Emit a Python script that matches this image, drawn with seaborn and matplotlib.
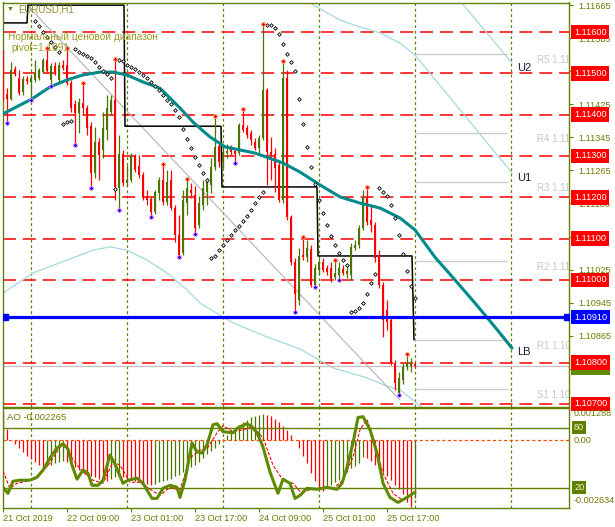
import numpy as np
import pandas as pd
import matplotlib
matplotlib.use("Agg")
import matplotlib.pyplot as plt
import matplotlib.transforms as mtransforms
import seaborn as sns

sns.set_theme(style="white")
plt.rcParams["font.family"] = ["Liberation Sans", "DejaVu Sans"]
plt.rcParams["axes.unicode_minus"] = False

# ---------------- data (EURUSD H1) ----------------
opens = [1.11544, 1.11450, 1.11438, 1.11510, 1.11489, 1.11455, 1.11486, 1.11479, 1.11484, 1.11489,
         1.11503, 1.11532, 1.11484, 1.11518, 1.11484, 1.11520, 1.11520, 1.11477, 1.11426, 1.11404,
         1.11428, 1.11416, 1.11372, 1.11259, 1.11334, 1.11314, 1.11363, 1.11406, 1.11435, 1.11222,
         1.11305, 1.11235, 1.11242, 1.11300, 1.11276, 1.11254, 1.11203, 1.11196, 1.11164, 1.11210,
         1.11242, 1.11189, 1.11242, 1.11174, 1.11109, 1.11065, 1.11186, 1.11218, 1.11206, 1.11133,
         1.11181, 1.11213, 1.11230, 1.11273, 1.11324, 1.11285, 1.11307, 1.11319, 1.11312, 1.11307,
         1.11375, 1.11368, 1.11356, 1.11334, 1.11319, 1.11343, 1.11460, 1.11310, 1.11305, 1.11278,
         1.11193, 1.11489, 1.11152, 1.11043, 1.10951, 1.11060, 1.11055, 1.11075, 1.10988, 1.11024,
         1.11043, 1.11029, 1.11029, 1.11007, 1.11012, 1.11026, 1.11014, 1.11012, 1.11077, 1.11085,
         1.11126, 1.11198, 1.11145, 1.11133, 1.11060, 1.10988, 1.10927, 1.10903, 1.10799, 1.10726,
         1.10758, 1.10789, 1.10792, 1.10797]
highs = [1.11556, 1.11464, 1.11527, 1.11518, 1.11508, 1.11494, 1.11494, 1.11494, 1.11532, 1.11513,
         1.11537, 1.11561, 1.11525, 1.11527, 1.11527, 1.11532, 1.11561, 1.11484, 1.11435, 1.11440,
         1.11477, 1.11423, 1.11382, 1.11370, 1.11343, 1.11406, 1.11448, 1.11448, 1.11535, 1.11351,
         1.11314, 1.11278, 1.11307, 1.11305, 1.11302, 1.11261, 1.11218, 1.11201, 1.11218, 1.11249,
         1.11281, 1.11266, 1.11266, 1.11181, 1.11157, 1.11218, 1.11244, 1.11235, 1.11227, 1.11203,
         1.11242, 1.11247, 1.11295, 1.11397, 1.11334, 1.11327, 1.11329, 1.11327, 1.11319, 1.11380,
         1.11414, 1.11375, 1.11363, 1.11343, 1.11351, 1.11619, 1.11464, 1.11346, 1.11319, 1.11290,
         1.11530, 1.11508, 1.11157, 1.11053, 1.11077, 1.11104, 1.11097, 1.11085, 1.11039, 1.11053,
         1.11053, 1.11036, 1.11043, 1.11048, 1.11043, 1.11036, 1.11036, 1.11089, 1.11097, 1.11133,
         1.11218, 1.11225, 1.11181, 1.11140, 1.11072, 1.10995, 1.10951, 1.10908, 1.10806, 1.10777,
         1.10799, 1.10821, 1.10811, 1.10801]
lows = [1.11435, 1.11380, 1.11435, 1.11494, 1.11448, 1.11448, 1.11474, 1.11435, 1.11479, 1.11484,
        1.11501, 1.11503, 1.11469, 1.11496, 1.11479, 1.11508, 1.11472, 1.11406, 1.11327, 1.11356,
        1.11399, 1.11351, 1.11222, 1.11247, 1.11242, 1.11295, 1.11339, 1.11399, 1.11193, 1.11169,
        1.11227, 1.11227, 1.11237, 1.11261, 1.11247, 1.11193, 1.11181, 1.11152, 1.11160, 1.11193,
        1.11181, 1.11181, 1.11169, 1.11092, 1.11055, 1.11060, 1.11157, 1.11198, 1.11111, 1.11126,
        1.11169, 1.11181, 1.11210, 1.11266, 1.11273, 1.11271, 1.11295, 1.11302, 1.11283, 1.11302,
        1.11358, 1.11343, 1.11327, 1.11314, 1.11307, 1.11339, 1.11230, 1.11242, 1.11213, 1.11189,
        1.11186, 1.11145, 1.11036, 1.10922, 1.10939, 1.11048, 1.11043, 1.10983, 1.10983, 1.11012,
        1.11019, 1.11012, 1.10995, 1.11000, 1.11000, 1.11012, 1.11005, 1.11000, 1.11072, 1.11077,
        1.11121, 1.11133, 1.11116, 1.11043, 1.10980, 1.10862, 1.10879, 1.10794, 1.10734, 1.10722,
        1.10748, 1.10782, 1.10777, 1.10787]
closes = [1.11448, 1.11438, 1.11508, 1.11498, 1.11452, 1.11486, 1.11481, 1.11489, 1.11503, 1.11508,
          1.11532, 1.11506, 1.11518, 1.11503, 1.11520, 1.11513, 1.11477, 1.11416, 1.11404, 1.11431,
          1.11416, 1.11368, 1.11259, 1.11334, 1.11302, 1.11368, 1.11416, 1.11435, 1.11225, 1.11305,
          1.11235, 1.11242, 1.11300, 1.11266, 1.11254, 1.11201, 1.11193, 1.11164, 1.11213, 1.11242,
          1.11189, 1.11237, 1.11174, 1.11109, 1.11060, 1.11193, 1.11222, 1.11210, 1.11126, 1.11186,
          1.11222, 1.11237, 1.11273, 1.11322, 1.11285, 1.11310, 1.11312, 1.11310, 1.11305, 1.11375,
          1.11363, 1.11351, 1.11339, 1.11319, 1.11343, 1.11460, 1.11310, 1.11302, 1.11271, 1.11193,
          1.11489, 1.11152, 1.11043, 1.10966, 1.11058, 1.11055, 1.11077, 1.10988, 1.11029, 1.11043,
          1.11024, 1.11019, 1.11002, 1.11017, 1.11029, 1.11017, 1.11022, 1.11080, 1.11085, 1.11126,
          1.11201, 1.11140, 1.11133, 1.11053, 1.10988, 1.10903, 1.10898, 1.10799, 1.10751, 1.10763,
          1.10789, 1.10799, 1.10797, 1.10791]

# Parabolic SAR per bar (nan = not visible)
sar = [np.nan] * 8 + [
    1.11627, 1.11615, 1.11600, 1.11588, 1.11576, 1.11564, 1.11552, 1.11377, 1.11382, 1.11385,
    1.11559, 1.11552, 1.11547, 1.11542, 1.11537, 1.11527, 1.11515, 1.11506, 1.11498, 1.11489,
    1.11220, 1.11532, 1.11530, 1.11520, 1.11515, 1.11510, 1.11503, 1.11496, 1.11489, 1.11479,
    1.11469, 1.11460, 1.11448, 1.11435, 1.11426, 1.11411, 1.11394, 1.11365, 1.11341, 1.11319,
    1.11298, 1.11278, 1.11259, 1.11242, 1.11053, 1.11058, 1.11072, 1.11085, 1.11097, 1.11109,
    1.11121, 1.11130, 1.11143, 1.11155, 1.11169, 1.11186, 1.11201, 1.11213, 1.11617, 1.11617,
    1.11610, 1.11595, 1.11571, 1.11547, 1.11527, 1.11506, 1.11438, 1.11377, 1.11322, 1.11273,
    1.11232, 1.11193, 1.11162, 1.11133, 1.11106, 1.11085, 1.11065, 1.11048, 1.11036, 1.10922,
    1.10925, 1.10932, 1.10944, 1.10966, 1.10993, 1.11014, 1.11222, 1.11213, 1.11203, 1.11181,
    1.11150, 1.11109, 1.11063, 1.11022, 1.10985, 1.10956]

fractal_up = [11, 16, 20, 28, 40, 46, 53, 60, 65, 70, 75, 83, 91, 101]
fractal_dn = [1, 7, 12, 18, 22, 29, 37, 44, 48, 58, 73, 78, 84, 99]

# moving average (drawn with forward shift)
ma_x = [0, 7.25, 11.75, 16, 20, 24.25, 27.5, 31, 35, 39.25, 44.25, 47.5, 51.75, 55.5, 63, 70,
        74.25, 79.25, 84.25, 89.25, 94.25, 99.25, 103, 108, 113, 118, 123, 127.25]
ma_y = [1.11402, 1.11438, 1.11467, 1.11484, 1.11496, 1.11503, 1.11503, 1.11496, 1.11479, 1.11464,
        1.11416, 1.11382, 1.11346, 1.11322, 1.11307, 1.11283, 1.11261, 1.11230, 1.11201, 1.11186,
        1.11174, 1.11150, 1.11121, 1.11055, 1.11000, 1.10944, 1.10886, 1.10835]

# "normal price range" step line
range_x = [0, 6, 6.25, 30.25, 30.5, 54.5, 54.75, 78.5, 78.75, 102.25, 102.75]
range_y = [1.11622, 1.11622, 1.11665, 1.11665, 1.11372, 1.11372, 1.11225, 1.11225, 1.11058, 1.11058, 1.10855]

# channel lines
ch_up1_x = [73, 76.75, 84.25, 89.25, 94.25, 99.25, 103, 127.25]
ch_up1_y = [1.11697, 1.11670, 1.11629, 1.11612, 1.11598, 1.11573, 1.11544, 1.11259]
ch_up2_x = [113, 127.25]
ch_up2_y = [1.11690, 1.11525]
ch_lo_x = [0, 7.5, 16, 22.5, 26.75, 31, 36, 41, 46, 49.25, 57.5, 66, 74.25, 82.5, 91, 96,
           99.25, 102.5, 105.5]
ch_lo_y = [1.10968, 1.11017, 1.11048, 1.11072, 1.11080, 1.11072, 1.11048, 1.11017, 1.10976,
           1.10944, 1.10896, 1.10862, 1.10833, 1.10787, 1.10763, 1.10743, 1.10734, 1.10709, 1.10685]
diag_x = [6, 99.25]
diag_y = [1.11665, 1.10709]

levels = [1.11600, 1.11500, 1.11400, 1.11300, 1.11200, 1.11100, 1.11000, 1.10800, 1.10700]
pivot = 1.10910
bid = 1.10791
piv_names = ["R5", "R4", "R3", "R2", "R1", "S1"]
piv_vals = [1.11547, 1.11356, 1.11237, 1.11046, 1.10855, 1.10736]
y_ticks = [1.11665, 1.11585, 1.11505, 1.11425, 1.11345, 1.11265, 1.11185, 1.11105,
           1.11025, 1.10945, 1.10865, 1.10785]
y_tick_hidden = [1.11505, 1.11105, 1.10785]

# AO histogram (x 1e-4)
ao = np.array([11, 4.5, 0.3, -1.5, -3, -4.5, -6, -7.5, -8.5, -9.5,
               -10.5, -10, -9.5, -9, -8.5, -8, -8.5, -9.5, -10.5, -11.5,
               -12.5, -13.5, -14, -14.5, -15, -15.5, -15.8, -15, -14.5, -14,
               -14.5, -15, -15.5, -16, -16.5, -17, -17.2, -17.5, -17, -16.5,
               -16, -15.5, -15, -14, -13.5, -12.5, -11.5, -10.5, -9.5, -8.5,
               -7, -5.5, -4, -3, -1.5, 0.5, 2, 3.5, 5, 6,
               7, 8, 9, 9.5, 10, 10.5, 10, 9.5, 8.5, 7,
               5.5, 4, 2, 0, -3, -6, -9, -13, -16, -19,
               -20, -18.5, -17.5, -16.5, -15.5, -14, -12.5, -11, -10, -9,
               -6.5, -7, -8, -9.5, -11, -12.5, -14, -15.5, -17.5, -19,
               -21, -24, -26.3, -22.65]) * 1e-4

# Stochastic
stk_x = [0, 1.25, 2.5, 4.25, 6.75, 8.5, 10, 11.75, 13.5, 15, 16.25, 17.25, 18.5, 20, 21.25, 22.25,
         23.75, 25, 26.75, 28, 30, 31.25, 33.5, 35, 37.25, 38.5, 40, 41.75, 43.5, 44.25, 45.5,
         47.25, 48.5, 49.75, 51, 52.5, 53.5, 55, 57.5, 58.75, 61, 62.25, 63.5, 65, 66.75, 68.75,
         70, 71.75, 73, 74.25, 76, 78.5, 81, 83.5, 84.75, 86, 87.5, 88.75, 90, 91.75, 93.5, 95,
         96.75, 98.75, 101, 103]
stk_k = [20.2, 14.1, 26.3, 27.3, 27.3, 30.3, 37.4, 49.5, 59.6, 63.6, 58.6, 42.4, 28.3, 37.4, 34.3,
         22.2, 22.2, 27.3, 52.5, 43.4, 24.2, 27.3, 29.3, 24.2, 9.1, 9.1, 19.2, 22.2, 20.2, 10.1,
         27.3, 64.6, 55.6, 54.5, 62.6, 82.8, 83.8, 75.8, 74.7, 79.8, 83.8, 80.8, 74.7, 60.6, 35.4,
         14.1, 28.3, 24.2, 9.1, 12.1, 19.2, 18.2, 20.2, 18.2, 24.2, 40.4, 64.6, 89.9, 90.9, 77.8,
         54.5, 24.2, 10.1, 5.1, 10.1, 15.2]
std_x = [0, 1.75, 3.5, 6, 8.5, 11.75, 14.25, 16, 17.5, 20, 22.5, 25, 27.5, 29.25, 31.75, 34.25,
         36.75, 39.25, 41.75, 44.25, 46.75, 49.25, 51, 53.5, 55, 57.5, 60, 62.5, 65, 67.5, 70,
         72.5, 74.25, 76, 79.25, 82.5, 85, 87.5, 89.25, 91, 92.5, 95, 97.5, 100, 102.5]
std_d = [36.4, 19.2, 24.2, 26.3, 29.3, 44.4, 60.6, 60.6, 47.5, 35.4, 27.3, 24.2, 45.5, 42.4, 25.3,
         25.3, 18.2, 12.1, 20.2, 17.2, 49.5, 57.6, 58.6, 74.7, 81.8, 75.8, 77.8, 80.8, 69.7, 42.4,
         27.3, 24.2, 16.2, 17.2, 19.2, 19.2, 27.3, 50.5, 77.8, 87.9, 70.7, 34.3, 14.1, 7.1, 14.1]

tick_pos = [0, 16, 32, 48, 64, 80, 96]
tick_lab = ["21 Oct 2019", "22 Oct 09:00", "23 Oct 01:00", "23 Oct 17:00",
            "24 Oct 09:00", "25 Oct 01:00", "25 Oct 17:00"]
day_sep = [7, 31, 55, 79, 103, 127]

# ---------------- styling ----------------
OLIVE = "#5f8200"
TXT = "#6f7a00"
GREEN = "#4c7400"
RED = "#ff0000"
W, H = 615, 527
fig = plt.figure(figsize=(W / 100, H / 100), dpi=100)
fig.patch.set_facecolor("white")


def rect(l, t, r, b):
    return [l / W, 1 - b / H, (r - l) / W, (b - t) / H]


ax = fig.add_axes(rect(2.5, 2.5, 568.5, 407))
ax2 = fig.add_axes(rect(2.5, 407.5, 568.5, 507.5))
XL = (-0.125, 141.375)
for a in (ax, ax2):
    a.set_facecolor("white")
    a.set_xlim(*XL)
    for s in a.spines.values():
        s.set_color(OLIVE)
        s.set_linewidth(1.0)
    for d in day_sep:
        a.axvline(d, color=OLIVE, lw=0.9, ls=(0, (2.2, 2.2)), zorder=1)

ax.set_ylim(1.106925, 1.116714)

# ---- main panel ----
df = pd.DataFrame({"o": opens, "h": highs, "l": lows, "c": closes})
idx = np.arange(len(df))
bull = df["c"].values >= df["o"].values
cols = np.where(bull, GREEN, RED)

for lv in levels:
    ax.axhline(lv, color=RED, lw=1.1, ls=(0, (8.5, 4.5)), zorder=1.2)

sns.lineplot(x=ch_up1_x, y=ch_up1_y, ax=ax, color="#a6d8e0", lw=0.9, zorder=1.3)
sns.lineplot(x=ch_up2_x, y=ch_up2_y, ax=ax, color="#a6d8e0", lw=0.9, zorder=1.3)
sns.lineplot(x=ch_lo_x, y=ch_lo_y, ax=ax, color="#a6d8e0", lw=0.9, zorder=1.3)
sns.lineplot(x=diag_x, y=diag_y, ax=ax, color="#b4b4b4", lw=0.8, zorder=1.3)

for nm, pv in zip(piv_names, piv_vals):
    ax.plot([103, 126], [pv, pv], color="#cccccc", lw=1.0, zorder=1.3)
    ax.text(133.5, pv - 0.00003, f"{nm} {pv:.4f}", color="#c8c8c8", fontsize=7,
            ha="left", va="top", zorder=1.4, clip_on=True)
ax.axhline(bid, color="#c0c0c0", lw=0.9, zorder=1.3)

ax.plot(range_x, range_y, color="black", lw=1.1, zorder=2)

ax.vlines(idx, df["l"], df["h"], colors=cols, lw=0.9, zorder=3)
body = (df["c"] - df["o"]).abs().clip(lower=0.000025)
ax.bar(idx, body, bottom=np.minimum(df["o"], df["c"]), width=0.72, color=cols,
       linewidth=0, zorder=3.1)

sns.lineplot(x=ma_x, y=ma_y, ax=ax, color="#008a8a", lw=2.2, zorder=3.5)

ax.plot([0.5, 141], [pivot, pivot], color="#0000ff", lw=2.3, marker="s", ms=4.5, zorder=3.6)

sns.scatterplot(x=idx, y=sar, ax=ax, marker="D", s=3.5, color="white", edgecolor="black",
                linewidth=0.6, zorder=4)
sns.scatterplot(x=fractal_up, y=df["h"].values[fractal_up], ax=ax, marker="P", s=12,
                color=RED, edgecolor="#ffb070", linewidth=0.5, zorder=4.5)
sns.scatterplot(x=fractal_dn, y=df["l"].values[fractal_dn], ax=ax, marker="P", s=12,
                color="#0000ff", edgecolor="#ff90ff", linewidth=0.5, zorder=4.5)

ax.text(128.5, 1.11513, "U2", fontsize=8, color="#1a1a3a", va="center", ha="left", zorder=5)
ax.text(128.5, 1.11247, "U1", fontsize=8, color="#1a1a3a", va="center", ha="left", zorder=5)
ax.text(128.5, 1.10826, "LB", fontsize=8, color="#1a1a3a", va="center", ha="left", zorder=5)

# axes labels on the right
ax.set_xticks([])
ax.yaxis.tick_right()
ax.set_yticks(y_ticks)
ax.set_yticklabels(["" if v in y_tick_hidden else f"{v:.5f}" for v in y_ticks])
ax.tick_params(axis="y", right=True, left=False, labelright=True, labelleft=False,
               length=3, width=0.8, color=OLIVE, labelcolor=TXT, labelsize=6.6, pad=4)
ax.grid(False)

btrans = mtransforms.blended_transform_factory(ax.transAxes, ax.transData)
XBOX = (574 - 2.5) / 566


def pbox(axis, trans, y, s, fc, tc="white", z=6):
    axis.text(XBOX, y, s, transform=trans, ha="left", va="center", fontsize=6.6, color=tc,
              bbox=dict(boxstyle="square,pad=0.3", fc=fc, ec="none"), zorder=z, clip_on=False)


pbox(ax, btrans, bid - 0.00003, f"{bid:.5f}", "#5f8a00", z=5.5)
for lv in levels:
    pbox(ax, btrans, lv, f"{lv:.5f}", RED)
pbox(ax, btrans, pivot, f"{pivot:.5f}", "#0000ff")

ax.text((7 - 2.5) / 566, 1 - (9 - 2.5) / 404.5, "\u25BC", transform=ax.transAxes,
        fontsize=5, color="#5f7f00", va="center", ha="left", zorder=6)
ax.text((18 - 2.5) / 566, 1 - (10 - 2.5) / 404.5, "EURUSD,H1", transform=ax.transAxes,
        fontsize=6.9, color="#8c8c30", va="center", ha="left", zorder=6)
ax.text((8 - 2.5) / 566, 1 - (37 - 2.5) / 404.5, "Нормальный ценовой диапазон",
        transform=ax.transAxes, fontsize=7.3, color="#9a9a28", va="center", ha="left", zorder=6)
ax.text((11 - 2.5) / 566, 1 - (48 - 2.5) / 404.5, "pivot=1.1091",
        transform=ax.transAxes, fontsize=7.3, color="#9a9a28", va="center", ha="left", zorder=6)

# ---- AO / stochastic panel ----
ax2.set_ylim(-0.002634, 0.001288)
ao_prev = np.concatenate([[ao[0] + 1], ao[:-1]])
ao_cols = np.where(ao > ao_prev, GREEN, RED)
ax2.vlines(idx, 0, ao, colors=ao_cols, lw=0.9, zorder=2)
ax2.axhline(0, color="#ff4a00", lw=0.9, ls=(0, (2.5, 2)), zorder=2.5)

ax3 = ax2.twinx()
ax3.set_ylim(0, 100)
ax3.set_xlim(*XL)
ax3.axis("off")
ax3.axhline(80, color=OLIVE, lw=1.0, zorder=1)
ax3.axhline(20, color=OLIVE, lw=1.0, zorder=1)
sns.lineplot(x=std_x, y=std_d, ax=ax3, color=RED, lw=0.8, zorder=2)
ax3.lines[-1].set_linestyle((0, (3, 1.5)))
sns.lineplot(x=stk_x, y=stk_k, ax=ax3, color="#5f8a00", lw=2.2, zorder=3)

ax2.set_yticks([])
ax2.set_xticks(tick_pos)
ax2.set_xticklabels(tick_lab)
for lbl in ax2.get_xticklabels():
    lbl.set_ha("left")
ax2.tick_params(axis="x", bottom=True, length=3, width=0.8, color=OLIVE, labelcolor=TXT,
                labelsize=6.6, pad=1.5)
ax2.grid(False)

ax2.text((7 - 2.5) / 566, 0.905, "AO -0.002265", transform=ax2.transAxes, fontsize=6.8,
         color=TXT, va="center", ha="left", zorder=6)
t2 = ax2.transAxes
ax2.text(XBOX, 0.94, "0.001288", transform=t2, fontsize=6.6, color=TXT, va="center",
         ha="left", clip_on=False)
ax2.text(XBOX, 0.07, "-0.002634", transform=t2, fontsize=6.6, color=TXT, va="center",
         ha="left", clip_on=False)
btrans2 = mtransforms.blended_transform_factory(ax2.transAxes, ax2.transData)
ax2.text(XBOX, 0, "0.00", transform=btrans2, fontsize=6.6, color=TXT, va="center",
         ha="left", clip_on=False)
btrans3 = mtransforms.blended_transform_factory(ax3.transAxes, ax3.transData)
for v in (80, 20):
    ax3.text(XBOX, v, str(v), transform=btrans3, fontsize=6.6, color="#f0f0c0", va="center",
             ha="left", bbox=dict(boxstyle="square,pad=0.2", fc="#5f7f00", ec="none"),
             clip_on=False, zorder=6)

fig.savefig("out.png", dpi=100, facecolor="white")
